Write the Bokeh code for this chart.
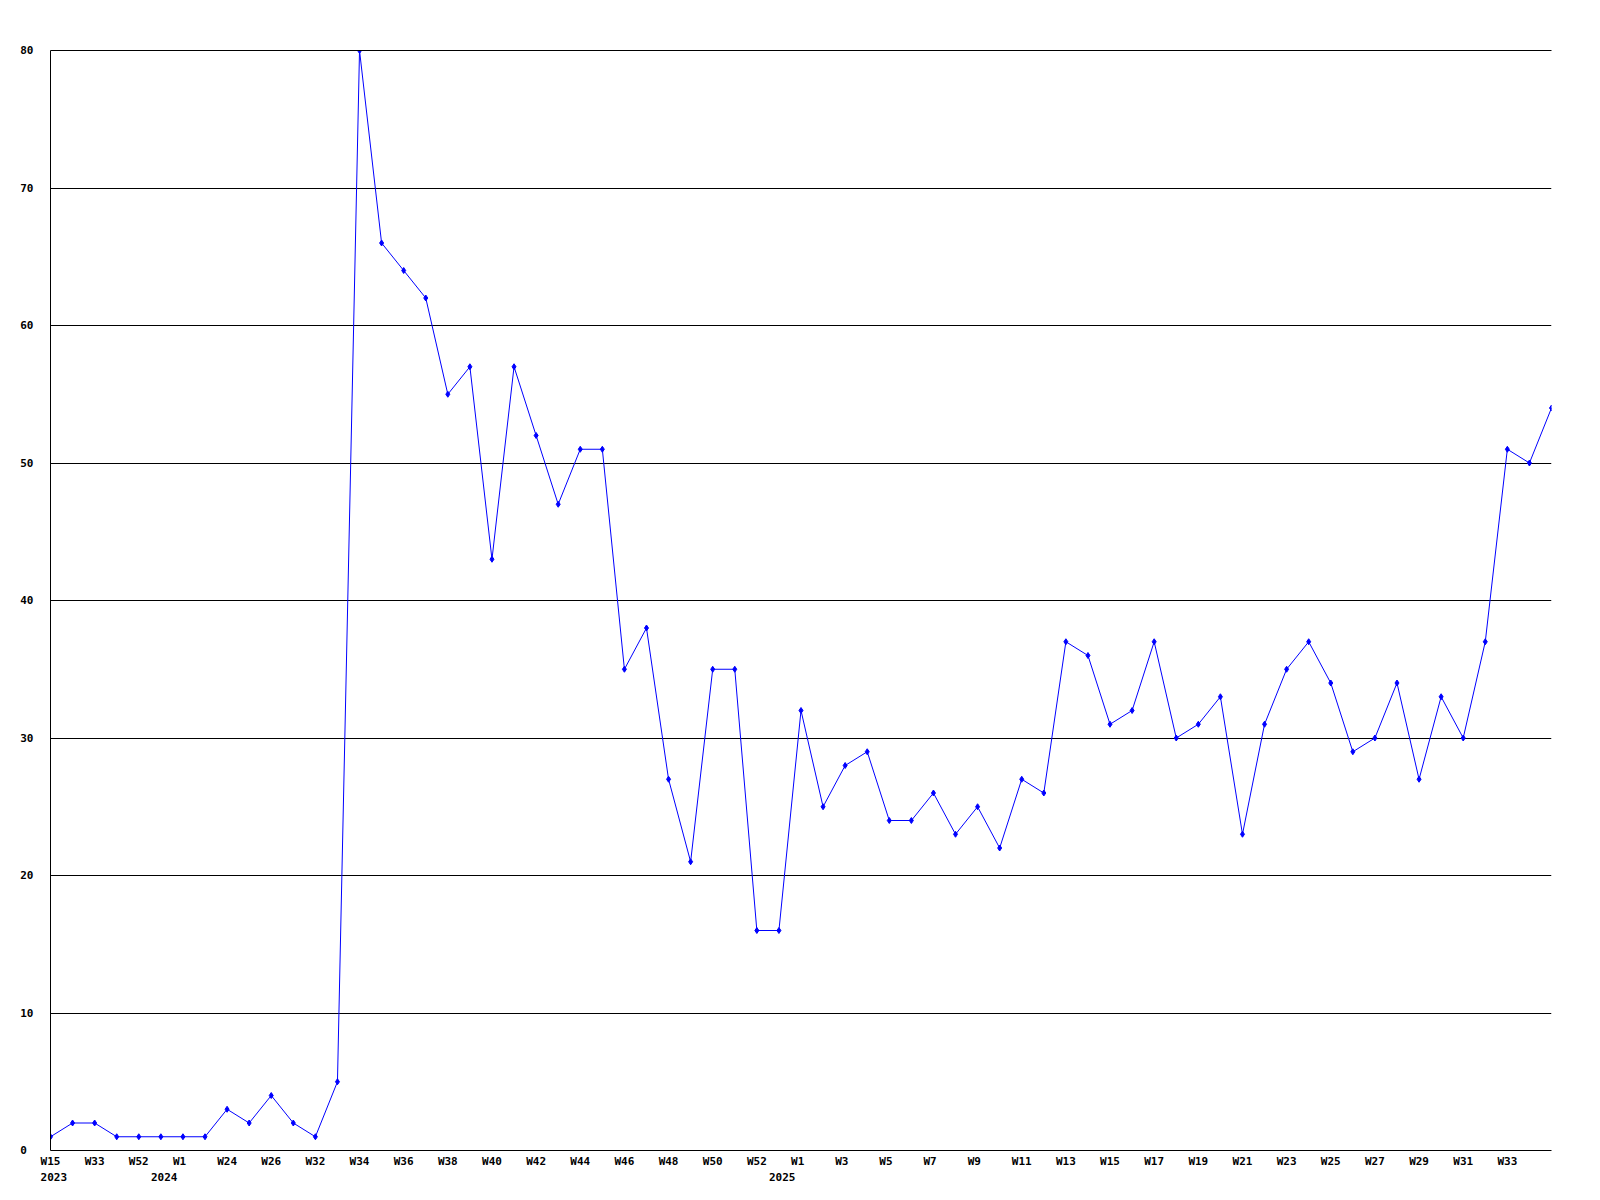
from bokeh.plotting import figure
from bokeh.models import Range1d, FixedTicker, LinearAxis, ColumnDataSource
from bokeh.embed import file_html
from bokeh.resources import INLINE

# ---- data ----
values = [1, 2, 2, 1, 1, 1, 1, 1, 3, 2, 4, 2, 1, 5, 80, 66, 64, 62, 55, 57,
          43, 57, 52, 47, 51, 51, 35, 38, 27, 21, 35, 35, 16, 16, 32, 25, 28, 29, 24, 24,
          26, 23, 25, 22, 27, 26, 37, 36, 31, 32, 37, 30, 31, 33, 23, 31, 35, 37, 34, 29,
          30, 34, 27, 33, 30, 37, 51, 50, 54]
week_tick_pos = list(range(0, 67, 2))
week_tick_labels = ["W15", "W33", "W52", "W1", "W24", "W26", "W32", "W34", "W36", "W38",
                    "W40", "W42", "W44", "W46", "W48", "W50", "W52", "W1", "W3", "W5",
                    "W7", "W9", "W11", "W13", "W15", "W17", "W19", "W21", "W23", "W25",
                    "W27", "W29", "W31", "W33"]
year_pos = [0, 5, 33]
year_labels = ["2023", "2024", "2025"]
y_ticks = [0, 10, 20, 30, 40, 50, 60, 70, 80]

FONT = "DejaVu Sans Mono"
NB = "\u00a0"
xs = list(range(len(values)))

p = figure(frame_width=1501, frame_height=1100,
           min_border_left=50, min_border_top=50, min_border_right=33, min_border_bottom=30,
           x_range=Range1d(0, len(values) - 1), y_range=Range1d(0, 80),
           output_backend="svg", toolbar_location=None)
p.outline_line_color = None
p.background_fill_color = "white"
p.border_fill_color = "white"


def style_axis(ax, size="11px"):
    ax.axis_line_color = "black"
    ax.axis_line_width = 1
    ax.major_tick_line_color = None
    ax.minor_tick_line_color = None
    ax.major_tick_out = 0
    ax.major_tick_in = 0
    ax.major_label_text_font = FONT
    ax.major_label_text_font_size = size
    ax.major_label_text_font_style = "bold"
    ax.major_label_text_color = "black"


# y axis: two-digit labels left aligned -> pad single digits
yax = p.yaxis[0]
style_axis(yax)
yax.ticker = FixedTicker(ticks=y_ticks)
yax.major_label_overrides = {t: (str(t) + NB if len(str(t)) < 2 else str(t)) for t in y_ticks}
yax.major_label_standoff = 17

# week axis: labels start 10px left of their point -> pad short labels
xax = p.xaxis[0]
style_axis(xax)
xax.ticker = FixedTicker(ticks=week_tick_pos)
xax.major_label_overrides = {pos: lab + NB * (3 - len(lab))
                             for pos, lab in zip(week_tick_pos, week_tick_labels)}
xax.major_label_standoff = 4

# year axis below the week axis
yr_ax = LinearAxis(ticker=FixedTicker(ticks=year_pos),
                   major_label_overrides={pos: NB + lab for pos, lab in zip(year_pos, year_labels)})
style_axis(yr_ax)
yr_ax.axis_line_color = None
yr_ax.major_label_standoff = 0
p.add_layout(yr_ax, "below")

# top frame line (the 80 grid line)
top_ax = LinearAxis(ticker=FixedTicker(ticks=[]))
style_axis(top_ax, size="0px")
top_ax.major_label_standoff = 0
p.add_layout(top_ax, "above")

p.xgrid.grid_line_color = None
p.ygrid.ticker = FixedTicker(ticks=y_ticks)
p.ygrid.grid_line_color = "black"
p.ygrid.grid_line_alpha = 1.0
p.ygrid.grid_line_width = 1

src = ColumnDataSource(dict(x=xs, y=values))
p.line("x", "y", source=src, line_color="#0000FF", line_width=1)
p.scatter("x", "y", source=src, marker="diamond", size=6,
          fill_color="#0000FF", line_color="#0000FF")

open("out.html", "w").write(file_html(p, INLINE))
